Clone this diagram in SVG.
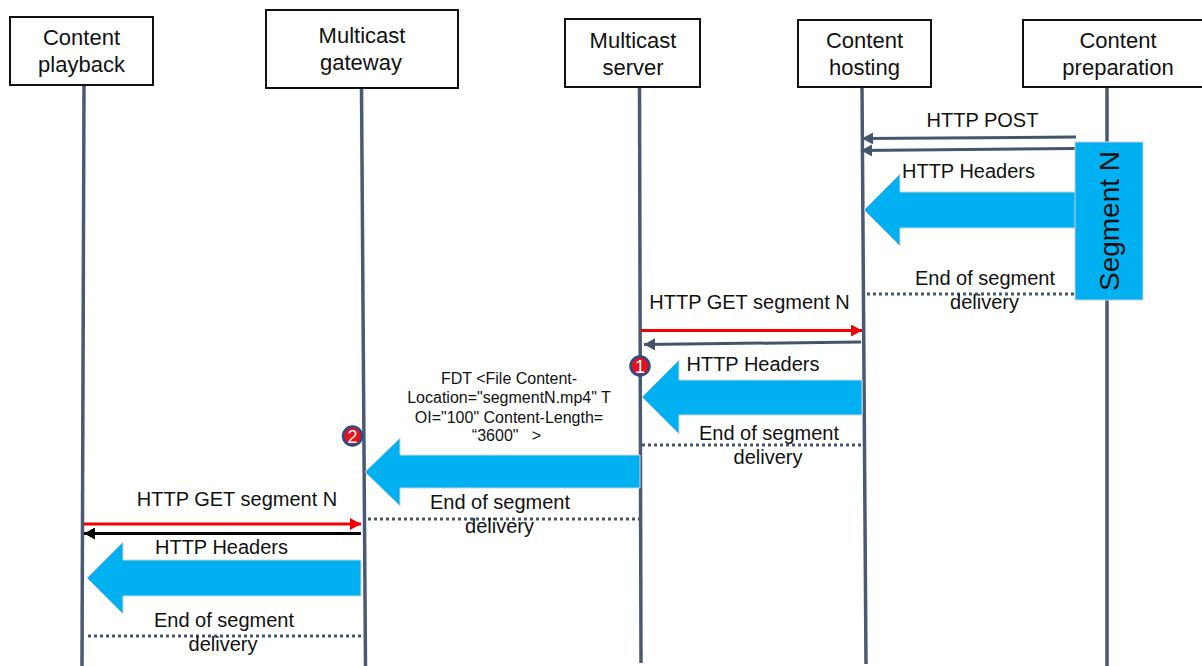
<svg xmlns="http://www.w3.org/2000/svg" width="1202" height="666" viewBox="0 0 1202 666">
<style>
text{font-family:"Liberation Sans",Arial,sans-serif;fill:#111;text-anchor:middle}
.h{font-size:22px}
.l{font-size:20px}
.s{font-size:16px}
.box{fill:#fff;stroke:#111;stroke-width:2}
.life{stroke:#4a5a72;stroke-width:3.500;fill:none}
.dark{stroke:#44546a;stroke-width:3;fill:none}
.dot{stroke:#44546a;stroke-width:3;fill:none;stroke-dasharray:3 3}
.blue{fill:#00b0f0;stroke:#d0d5da;stroke-width:1}
.badge{fill:#e8101c;stroke:#2f4a86;stroke-width:2.500}
.bt{font-size:18px;fill:#fff}
</style>
<defs>
<marker id="ad" markerUnits="userSpaceOnUse" markerWidth="12" markerHeight="12" refX="11" refY="6" orient="auto"><path d="M0 0L11 6L0 12z" fill="#44546a"/></marker>
<marker id="ar" markerUnits="userSpaceOnUse" markerWidth="12" markerHeight="12" refX="11" refY="6" orient="auto"><path d="M0 0L11 6L0 12z" fill="#f00000"/></marker>
<marker id="ak" markerUnits="userSpaceOnUse" markerWidth="12" markerHeight="12" refX="11" refY="6" orient="auto"><path d="M0 0L11 6L0 12z" fill="#000"/></marker>
</defs>
<g id="connectors">
<path class="life" d="M84 85L82 666"/>
<path class="life" d="M361.500 88L365.500 666"/>
<path class="life" d="M639.500 87L641 663"/>
<path class="life" d="M862 87L866 664"/>
<path class="life" d="M1107 87V666"/>
<path class="dark" d="M1076 137L862 138.500" marker-end="url(#ad)"/>
<path class="dark" d="M1076 148.500L861 150.500" marker-end="url(#ad)"/>
<path class="dot" d="M867 294H1075"/>
<path d="M641 330.500H862" stroke="#f00000" stroke-width="3" fill="none" marker-end="url(#ar)"/>
<path class="dark" d="M861 342L644 344.500" marker-end="url(#ad)"/>
<path class="dot" d="M642 445H865"/>
<path class="dot" d="M368 519H640"/>
<path d="M84 524H361" stroke="#f00000" stroke-width="3" fill="none" marker-end="url(#ar)"/>
<path d="M361 533.500H84" stroke="#000" stroke-width="3" fill="none" marker-end="url(#ak)"/>
<path class="dot" d="M88 636H365"/>
<path class="blue" d="M1076 192V228H900V246L864 210L900 174V192z" id="flow-hosting"/>
<path class="blue" d="M862 380V415H679V434L642 397L679 360V380z" id="flow-server"/>
<path class="blue" d="M640 455V488H400V506L365 472L400 438V455z" id="flow-fdt"/>
<path class="blue" d="M361 560V596H123V614L87 578L123 542V560z" id="flow-playback"/>
</g>
<g id="node-playback"><rect class="box" x="10" y="17" width="143" height="68"/><text class="h" x="81.500" y="45">Content</text><text class="h" x="81.500" y="72">playback</text></g>
<g id="node-gateway"><rect class="box" x="266" y="10" width="192" height="78"/><text class="h" x="362" y="43">Multicast</text><text class="h" x="361" y="70">gateway</text></g>
<g id="node-server"><rect class="box" x="565" y="19" width="135" height="68"/><text class="h" x="633" y="48">Multicast</text><text class="h" x="633" y="75">server</text></g>
<g id="node-hosting"><rect class="box" x="798" y="20" width="133" height="67"/><text class="h" x="864.500" y="48">Content</text><text class="h" x="864.500" y="75">hosting</text></g>
<g id="node-preparation"><rect class="box" x="1023" y="20" width="190" height="67"/><text class="h" x="1118" y="48">Content</text><text class="h" x="1118" y="75">preparation</text></g>
<g id="segment-n"><rect x="1075" y="142" width="68" height="158" fill="#00b0f0" stroke="#c8cdd2" stroke-width="1"/><text transform="translate(1119 221) rotate(-90)" style="font-size:28px">Segment N</text></g>
<g id="labels">
<text class="l" x="982.500" y="127">HTTP POST</text>
<text class="l" x="968.500" y="178">HTTP Headers</text>
<text class="l" x="985" y="285">End of segment</text>
<text class="l" x="984.500" y="309">delivery</text>
<text class="l" x="749.500" y="309">HTTP GET segment N</text>
<text class="l" x="753" y="371">HTTP Headers</text>
<text class="l" x="769" y="440">End of segment</text>
<text class="l" x="768" y="464">delivery</text>
<text class="s" x="509" y="384">FDT &lt;File Content-</text>
<text class="s" x="509" y="403">Location="segmentN.mp4" T</text>
<text class="s" x="509" y="423">OI="100" Content-Length=</text>
<text class="s" x="506.500" y="441" xml:space="preserve">“3600"   &gt;</text>
<text class="l" x="500" y="509">End of segment</text>
<text class="l" x="499.500" y="533">delivery</text>
<text class="l" x="237" y="506">HTTP GET segment N</text>
<text class="l" x="221.500" y="554">HTTP Headers</text>
<text class="l" x="224" y="627">End of segment</text>
<text class="l" x="223" y="651">delivery</text>
</g>
<g id="badge-1"><circle class="badge" cx="640" cy="366" r="9.500"/><text class="bt" x="640" y="372.500">1</text></g>
<g id="badge-2"><circle class="badge" cx="352.500" cy="436" r="9.500"/><text class="bt" x="352.500" y="442.500">2</text></g>
</svg>
